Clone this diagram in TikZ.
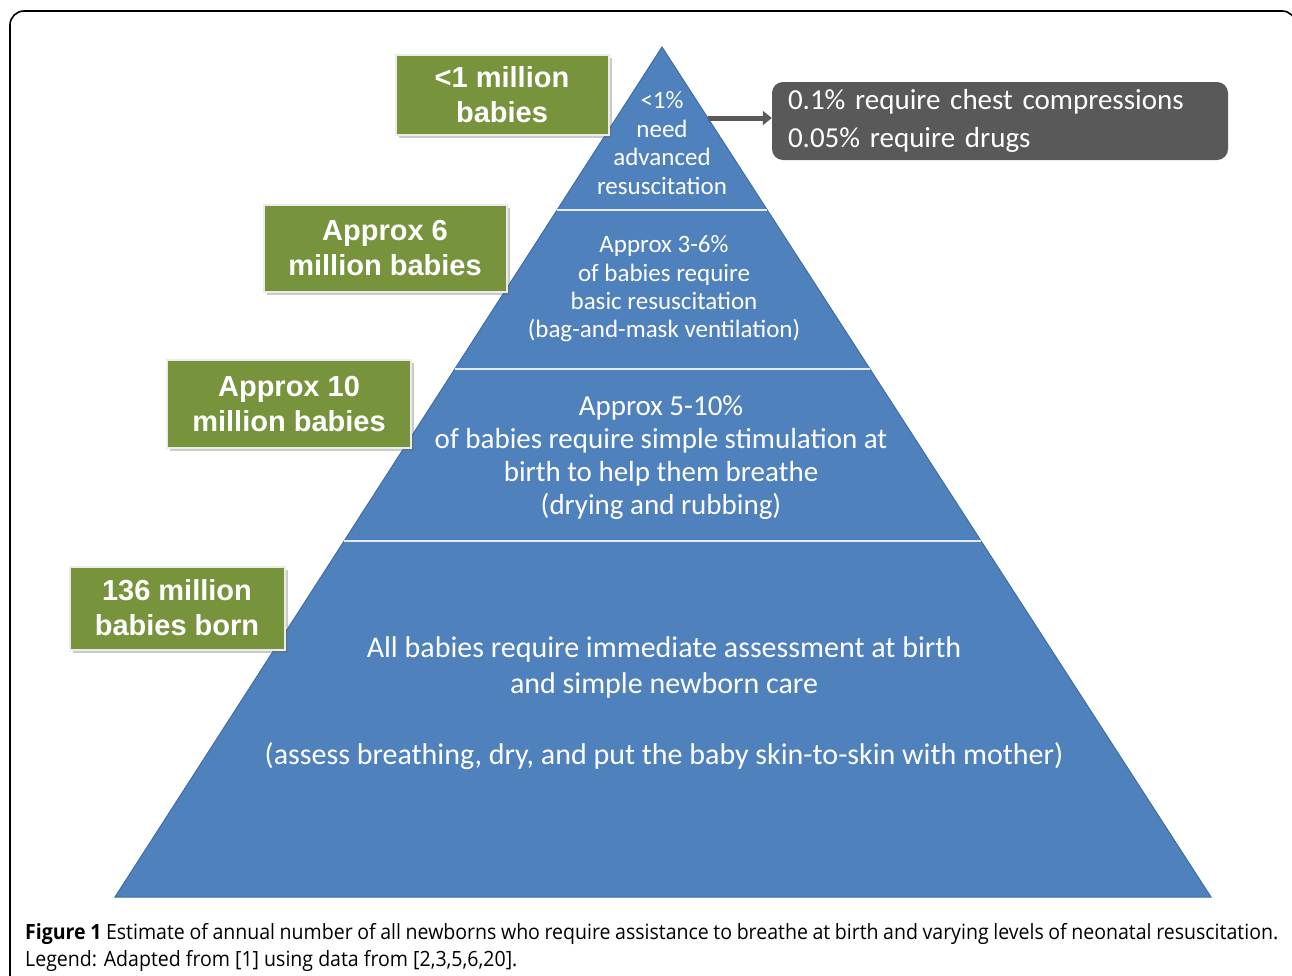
\documentclass[tikz,border=0pt]{standalone}
\usepackage{fontspec}
\setmainfont{Carlito}
\newfontfamily\arialfont{Liberation Sans}
\newfontfamily\capfont[FakeStretch=0.93]{Open Sans}
\usetikzlibrary{calc,shadows,arrows.meta}
\definecolor{pyrblue}{HTML}{4F81BD}
\definecolor{pyredge}{HTML}{3F6DA6}
\definecolor{boxgreen}{HTML}{77933C}
\definecolor{boxgray}{HTML}{595959}
\tikzset{
  countbox/.style={fill=boxgreen,draw=white!92!black,line width=2,text=white,
    font=\arialfont\bfseries\fontsize{29}{35}\selectfont,align=center,inner sep=0,
    drop shadow={shadow xshift=3pt,shadow yshift=-3pt,opacity=0.35,fill=black!60}},
  tiertext/.style={text=white,align=center,inner sep=0},
  sepline/.style={draw=white!85!pyrblue,line width=2.2}
}
\begin{document}
\begin{tikzpicture}[x=1pt,y=-1pt]
	\def\apexx{662}
	\def\apexy{47}
	\def\basey{897}
	\useasboundingbox (0,0) rectangle (1292,975);
	\begin{scope}
		\clip (0,0) rectangle (1292,975);
		\draw[line width=1.6,rounded corners=14] (10,990) -- (10,11) -- (1296,11) -- (1296,990);
	\end{scope}
	% pyramid
	\coordinate (apex) at (\apexx,\apexy);
	\coordinate (bl) at (115,\basey);
	\coordinate (br) at (1211,\basey);
	\fill[pyrblue] (apex) -- (br) -- (bl) -- cycle;
	\draw[pyredge,line width=1] (apex) -- (br) -- (bl) -- cycle;
	\foreach \t in {0.1918,0.3788,0.5812}
		\draw[sepline] ($(apex)!\t!(bl)$) -- ($(apex)!\t!(br)$);
	\node[tiertext,font=\fontsize{25}{28.5}\selectfont] (tierA) at (662,143)
		{<1\%\\need\\advanced\\resuscitation};
	\node[tiertext,font=\fontsize{25}{28.3}\selectfont] (tierB) at (664,289)
		{Approx 3-6\%\\of babies require\\basic resuscitation\\(bag-and-mask ventilation)};
	\node[tiertext,font=\fontsize{29}{33}\selectfont] (tierC) at (661,458)
		{Approx 5-10\%\\of babies require simple stimulation at\\birth to help them breathe\\(drying and rubbing)};
	\node[tiertext,font=\fontsize{30}{35.5}\selectfont] (tierD) at (664,703)
		{All babies require immediate assessment at birth\\and simple newborn care\\[35.5pt]
		(assess breathing, dry, and put the baby skin-to-skin with mother)};
	% numbers
	\node[countbox,minimum width=213,minimum height=80] (countA) at (502,95) {<1 million\\babies};
	\node[countbox,minimum width=243,minimum height=87] (countB) at (385,248) {Approx 6\\million babies};
	\node[countbox,minimum width=244,minimum height=88] (countC) at (289,404) {Approx 10\\million babies};
	\node[countbox,minimum width=215,minimum height=83] (countD) at (177,608) {136 million\\babies born};
	% advanced care
	\node[fill=boxgray,rounded corners=11,minimum width=456,minimum height=78,text width=424,
		inner xsep=16,align=left,text=white,font=\fontsize{29}{38}\selectfont] (drugs) at (1000,121)
		{0.1\% require chest compressions\\0.05\% require drugs};
	\coordinate (edge) at (708,118);
	\draw[boxgray,line width=5,-{Triangle[length=9,width=14]}] (edge) -- (edge -| drugs.west);
	% caption
	\node[anchor=north west,inner sep=0,text width=1253,align=justify,
		font=\capfont\fontsize{21}{27}\selectfont] (caption) at (25,923)
		{\textbf{Figure 1} Estimate of annual number of all newborns who require assistance to breathe at birth and varying levels of neonatal resuscitation.\linebreak
		Legend: Adapted from [1] using data from [2,3,5,6,20].};
\end{tikzpicture}
\end{document}
